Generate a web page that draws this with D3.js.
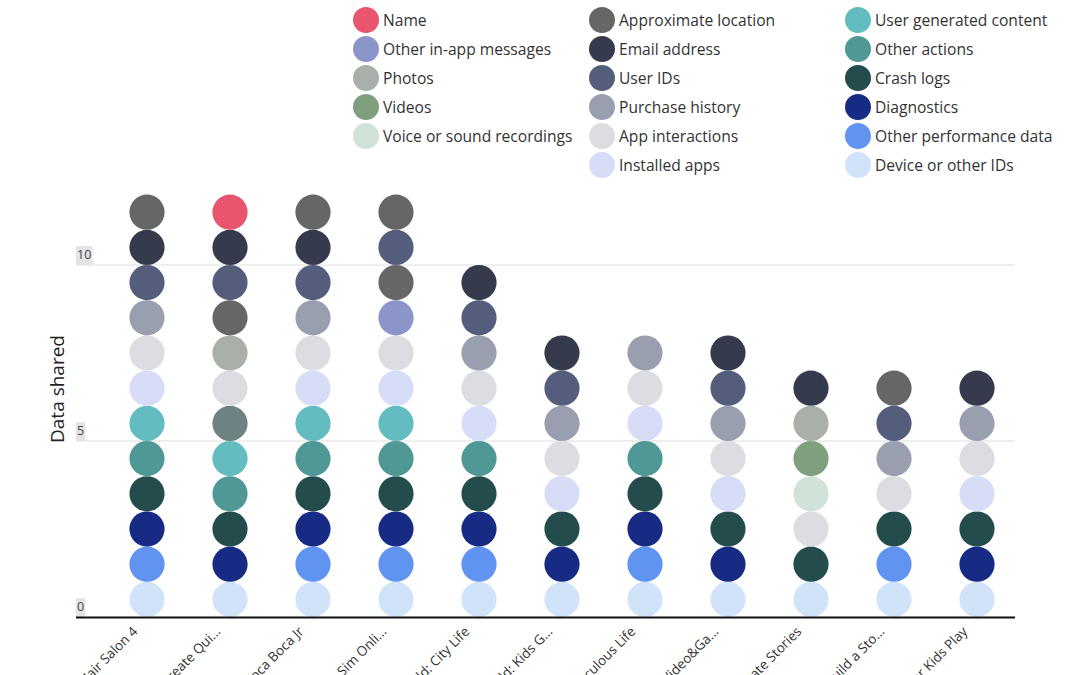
<!DOCTYPE html>
<html><head><meta charset="utf-8">
<script src="https://cdn.jsdelivr.net/npm/d3@7"></script>
<style>
html,body{margin:0;padding:0;background:#fff;}
svg{display:block;font-family:"Open Sans",sans-serif;}
</style></head>
<body><svg id="chart" width="1080" height="675"></svg>
<script>
// ---- data ----
const categories = ["Name","Other in-app messages","Photos","Videos","Voice or sound recordings",
  "Approximate location","Email address","User IDs","Purchase history","App interactions","Installed apps",
  "User generated content","Other actions","Crash logs","Diagnostics","Other performance data","Device or other IDs",
  "Precise location","Other user content"];
const categoryColors = ["#e9546f","#8b95c9","#a9b0aa","#7fa07f","#d1e3d9",
  "#666666","#353a4c","#545d7b","#9a9fb0","#dcdde3","#d7ddf7",
  "#63bcc0","#4f9896","#254c4c","#172b84","#6194f1","#d0e3f9",
  "#666666","#6d8282"];
const legendItems = ["Name","Other in-app messages","Photos","Videos","Voice or sound recordings",
  "Approximate location","Email address","User IDs","Purchase history","App interactions","Installed apps",
  "User generated content","Other actions","Crash logs","Diagnostics","Other performance data","Device or other IDs"];
const apps = ["Toca Hair Salon 4","Quiz Maker: Create Qui...","Toca Boca Jr","Hair Salon Sim Onli...",
  "My World: City Life","Toca World: Kids G...","Miraculous Life","Kids Video&Ga...",
  "Write & Create Stories","Let's Build a Sto...","Toddler Kids Play"];
// data types shared per app, listed bottom-up
const shared = [
  ["Device or other IDs","Other performance data","Diagnostics","Crash logs","Other actions","User generated content","Installed apps","App interactions","Purchase history","User IDs","Email address","Approximate location"],
  ["Device or other IDs","Diagnostics","Crash logs","Other actions","User generated content","Other user content","App interactions","Photos","Precise location","User IDs","Email address","Name"],
  ["Device or other IDs","Other performance data","Diagnostics","Crash logs","Other actions","User generated content","Installed apps","App interactions","Purchase history","User IDs","Email address","Approximate location"],
  ["Device or other IDs","Other performance data","Diagnostics","Crash logs","Other actions","User generated content","Installed apps","App interactions","Other in-app messages","Precise location","User IDs","Approximate location"],
  ["Device or other IDs","Other performance data","Diagnostics","Crash logs","Other actions","Installed apps","App interactions","Purchase history","User IDs","Email address"],
  ["Device or other IDs","Diagnostics","Crash logs","Installed apps","App interactions","Purchase history","User IDs","Email address"],
  ["Device or other IDs","Other performance data","Diagnostics","Crash logs","Other actions","Installed apps","App interactions","Purchase history"],
  ["Device or other IDs","Diagnostics","Crash logs","Installed apps","App interactions","Purchase history","User IDs","Email address"],
  ["Device or other IDs","Crash logs","App interactions","Voice or sound recordings","Videos","Photos","Email address"],
  ["Device or other IDs","Other performance data","Crash logs","App interactions","Purchase history","User IDs","Approximate location"],
  ["Device or other IDs","Diagnostics","Crash logs","Installed apps","App interactions","Purchase history","Email address"]
];
const yTicks = [0,5,10];
const yTitle = "Data shared";

// ---- chart ----
const svg = d3.select("#chart");
const left = 76, right = 1015, baseY = 617;
const color = d3.scaleOrdinal().domain(categories).range(categoryColors);
const x = d3.scaleBand().domain(apps).range([105.5, 1018.5]).paddingInner(0).paddingOuter(0);
const y = d3.scaleLinear().domain([0,10]).range([baseY, 265]);

// gridlines
const grid = svg.append("g");
yTicks.filter(d=>d>0).forEach(t=>{
  grid.append("line").attr("x1",left).attr("x2",right).attr("y1",y(t)).attr("y2",y(t))
    .attr("stroke","#dedede").attr("stroke-width",1);
});
// tick labels
yTicks.forEach(t=>{
  const g = svg.append("g").attr("transform",`translate(${left+1},${y(t)-6})`);
  const txt = g.append("text").text(t).attr("font-size",12.5).attr("fill","#444");
  const bb = txt.node().getBBox();
  g.insert("rect","text").attr("x",bb.x-1).attr("y",bb.y).attr("width",bb.width+2).attr("height",bb.height+2).attr("fill","#e4e4e4");
});

// dots
const dots = [];
apps.forEach((a,i)=>{
  shared[i].forEach((c,j)=>dots.push({app:a, cat:c, v:j+0.5}));
});
const r = (y(0)-y(1))/2;
svg.append("g").selectAll("circle").data(dots).join("circle")
  .attr("cx",d=>x(d.app)+x.bandwidth()/2)
  .attr("cy",d=>y(d.v))
  .attr("r",r)
  .attr("fill",d=>color(d.cat));

// baseline
svg.append("line").attr("x1",left).attr("x2",right).attr("y1",baseY+0.5).attr("y2",baseY+0.5)
  .attr("stroke","#111").attr("stroke-width",2);

// x labels
svg.append("g").selectAll("text").data(apps).join("text")
  .attr("transform",d=>`translate(${x(d)+x.bandwidth()/2-12},${baseY+12}) rotate(-45)`)
  .attr("text-anchor","end").attr("dy","0.35em")
  .attr("font-size",13.5).attr("fill","#333").text(d=>d);

// y title
svg.append("text").attr("transform",`translate(64,${y(5)-52}) rotate(-90)`)
  .attr("text-anchor","middle").attr("font-size",19).attr("fill","#222").text(yTitle);

// legend
const colX = [366, 602, 858];
const rowsPer = [5,6,6];
let idx = 0;
colX.forEach((cx,ci)=>{
  for(let k=0;k<rowsPer[ci];k++){
    const name = legendItems[idx++];
    const cy = 20 + k*29;
    svg.append("circle").attr("cx",cx).attr("cy",cy).attr("r",13).attr("fill",color(name));
    svg.append("text").attr("x",cx+17).attr("y",cy+1).attr("dy","0.35em")
      .attr("font-size",15.6).attr("fill","#333").text(name);
  }
});
</script></body></html>
